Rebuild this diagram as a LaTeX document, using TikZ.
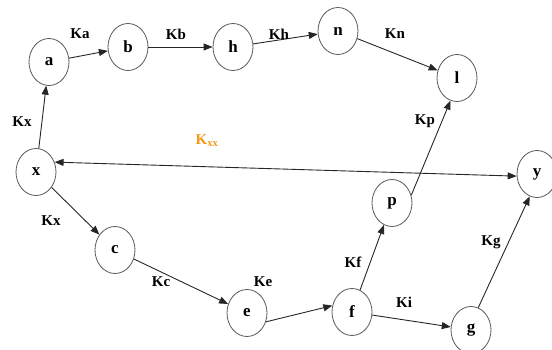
\documentclass[tikz,border=0pt]{standalone}
\usepackage{fontspec}
\setmainfont{Liberation Serif}
\usepackage{xcolor}
\usetikzlibrary{arrows.meta,shapes.geometric}
\definecolor{kxxorange}{RGB}{245,150,20}
\tikzset{
  statenode/.style = {ellipse,draw=black!65,line width=0.8pt,minimum width=40pt,
                      minimum height=47pt,inner sep=0pt,
                      font=\bfseries\fontsize{17}{19}\selectfont},
  edgearr/.style   = {-{Triangle[length=9pt,width=7pt]},line width=0.9pt,black!85},
  ratelbl/.style   = {font=\bfseries\fontsize{15}{17}\selectfont}
}

\begin{document}
\begin{tikzpicture}[x=1pt,y=-1pt]
  \useasboundingbox (0,0) rectangle (552,350);
  \node[statenode] (a) at (49,62)   {a};
  \node[statenode] (b) at (128,47)  {b};
  \node[statenode] (h) at (233,47)  {h};
  \node[statenode] (n) at (338,31)  {n};
  \node[statenode] (l) at (457,78)  {l};
  \node[statenode] (x) at (36,172)  {x};
  \node[statenode] (y) at (537,174) {y};
  \node[statenode] (c) at (115,250) {c};
  \node[statenode] (e) at (247,313) {e};
  \node[statenode] (f) at (352,312) {f};
  \node[statenode] (p) at (392,203) {p};
  \node[statenode] (g) at (471,330) {g};

  \draw[edgearr] (x) -- (a);
  \draw[edgearr] (a) -- (b);
  \draw[edgearr] (b) -- (h);
  \draw[edgearr] (h) -- (n);
  \draw[edgearr] (n) -- (l);
  \draw[edgearr] (p.22) -- (l.254);
  \draw[edgearr,{Triangle[length=9pt,width=7pt]}-{Triangle[length=9pt,width=7pt]}]
       (x.28) -- (y.186);
  \draw[edgearr] (x) -- (c);
  \draw[edgearr] (c) -- (e);
  \draw[edgearr] (e.-25) -- (f.162);
  \draw[edgearr] (f) -- (p);
  \draw[edgearr] (f) -- (g);
  \draw[edgearr] (g.72) -- (y.-108);

  \node[ratelbl] (lka)  at (80,34)   {Ka};
  \node[ratelbl] (lkb)  at (176,34)  {Kb};
  \node[ratelbl] (lkh)  at (279,34)  {Kh};
  \node[ratelbl] (lkn)  at (395,34)  {Kn};
  \node[ratelbl] (lkxa) at (22,122)  {Kx};
  \node[ratelbl,kxxorange] (lkxx) at (207,141) {K\textsubscript{xx}};
  \node[ratelbl] (lkp)  at (425,121) {Kp};
  \node[ratelbl] (lkxc) at (51,221)  {Kx};
  \node[ratelbl] (lkc)  at (161,282) {Kc};
  \node[ratelbl] (lke)  at (263,282) {Ke};
  \node[ratelbl] (lkf)  at (353,262) {Kf};
  \node[ratelbl] (lki)  at (404,302) {Ki};
  \node[ratelbl] (lkg)  at (491,242) {Kg};
\end{tikzpicture}
\end{document}
